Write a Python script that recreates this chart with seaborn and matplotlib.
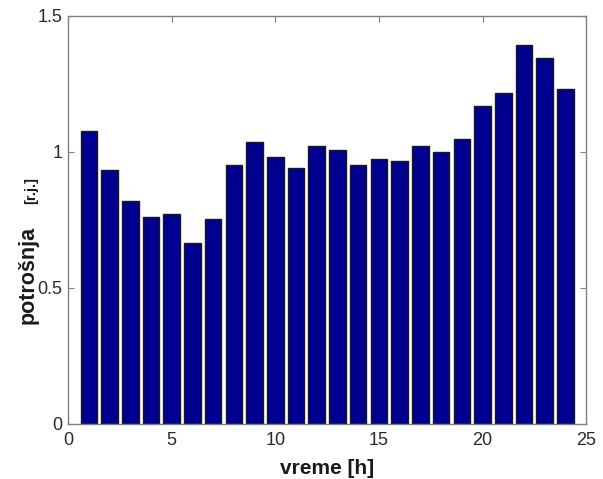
import numpy as np
import pandas as pd
import matplotlib
matplotlib.use("Agg")
import matplotlib.pyplot as plt
import seaborn as sns

# satni profil potrosnje
hours = list(range(1, 25))
consumption = [1.078, 0.932, 0.820, 0.762, 0.771, 0.665, 0.754, 0.950,
               1.037, 0.982, 0.940, 1.021, 1.005, 0.950, 0.973, 0.966,
               1.021, 0.998, 1.047, 1.167, 1.215, 1.393, 1.344, 1.232]
x_ticks = [0, 5, 10, 15, 20, 25]
y_ticks = [0, 0.5, 1, 1.5]
y_tick_labels = ['0', '0.5', '1', '1.5']

df = pd.DataFrame({'sat': hours, 'potrosnja': consumption})

sns.set_style('white')
plt.rcParams['font.family'] = ['Liberation Sans', 'DejaVu Sans']

fig = plt.figure(figsize=(6.03, 4.79), dpi=100)
ax = fig.add_axes([0.113, 0.115, 0.859, 0.852])

sns.barplot(data=df, x='sat', y='potrosnja', native_scale=True, width=0.8,
            color='#000090', saturation=1, edgecolor='#1a1a1a',
            linewidth=1.0, ax=ax)

ax.set_xlim(0, 25)
ax.set_ylim(0, 1.5)
ax.set_xticks(x_ticks)
ax.set_xticklabels([str(t) for t in x_ticks])
ax.set_yticks(y_ticks)
ax.set_yticklabels(y_tick_labels)
ax.tick_params(direction='in', length=4, width=0.8, color='#808080',
               labelsize=13, labelcolor='#2b2b2b', top=True, right=True,
               bottom=True, left=True)
ax.tick_params(axis='x', pad=6)
ax.tick_params(axis='y', pad=4)
for s in ax.spines.values():
    s.set_visible(True)
    s.set_color('#808080')
    s.set_linewidth(1.0)

ax.set_xlabel('vreme [h]', fontsize=15, fontweight='bold', color='#1a1a1a',
              labelpad=7)
ax.set_ylabel('')

fig.text(0.046, 0.426, 'potrošnja', rotation=90, ha='center', va='center',
         fontsize=15.5, fontweight='bold', color='#1a1a1a')
fig.text(0.051, 0.603, '[r.j.]', rotation=90, ha='center', va='center',
         fontsize=10.5, fontweight='bold', color='#1a1a1a')

fig.savefig('out.png', dpi=100)
